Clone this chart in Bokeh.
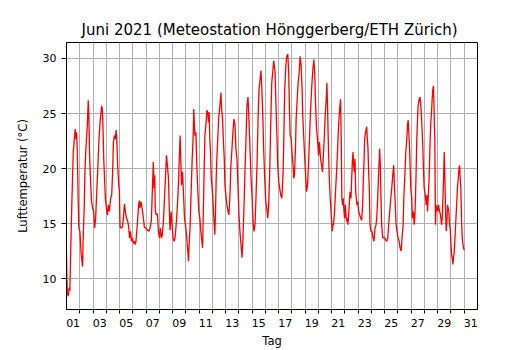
from bokeh.plotting import figure
from bokeh.models import FixedTicker, Range1d
from bokeh.embed import file_html
from bokeh.resources import INLINE

# time in fractional day of month (1.0 = 1 June 00:00), air temperature in °C
day = [
    1.00, 1.03, 1.06, 1.13, 1.20, 1.25, 1.33, 1.40, 1.51, 1.61, 1.66, 1.71, 1.76, 1.81, 1.88, 1.93,
    2.01, 2.09, 2.16, 2.21, 2.26, 2.34, 2.39, 2.46, 2.57, 2.64, 2.69, 2.74, 2.82, 2.89, 2.97,
    3.05, 3.12, 3.20, 3.27, 3.35, 3.45, 3.53, 3.65, 3.70, 3.75, 3.80, 3.85, 3.93,
    4.01, 4.08, 4.16, 4.23, 4.33, 4.41, 4.48, 4.54, 4.61, 4.69, 4.74, 4.79, 4.86, 4.94, 4.99,
    5.04, 5.12, 5.22, 5.29, 5.37, 5.44, 5.52, 5.62, 5.70, 5.75, 5.82, 5.90, 5.97,
    6.05, 6.13, 6.17, 6.24, 6.34, 6.44, 6.49, 6.54, 6.62, 6.70, 6.80, 6.87, 6.97,
    7.10, 7.22, 7.30, 7.40, 7.48, 7.55, 7.60, 7.65, 7.70, 7.78, 7.86, 7.93,
    8.01, 8.08, 8.16, 8.23, 8.31, 8.39, 8.46, 8.54, 8.61, 8.69, 8.76, 8.81, 8.89, 8.96,
    9.04, 9.12, 9.19, 9.27, 9.34, 9.42, 9.49, 9.57, 9.62, 9.67, 9.75, 9.82, 9.90,
    10.00, 10.07, 10.15, 10.20, 10.25, 10.33, 10.40, 10.48, 10.55, 10.60, 10.68, 10.76, 10.83, 10.91, 10.98,
    11.06, 11.13, 11.21, 11.26, 11.28, 11.34, 11.39, 11.44, 11.51, 11.59, 11.66, 11.71, 11.76, 11.81, 11.86, 11.92, 11.97,
    12.02, 12.09, 12.14, 12.19, 12.24, 12.29, 12.34, 12.42, 12.49, 12.57, 12.65, 12.70, 12.77, 12.85, 12.90, 12.95,
    13.02, 13.10, 13.18, 13.25, 13.33, 13.40, 13.48, 13.55, 13.63, 13.71, 13.78, 13.86, 13.93,
    14.01, 14.08, 14.16, 14.24, 14.31, 14.39, 14.46, 14.54, 14.61, 14.69, 14.76, 14.84, 14.92, 14.99,
    15.07, 15.14, 15.22, 15.29, 15.37, 15.45, 15.52, 15.60, 15.67, 15.72, 15.80, 15.87, 15.95,
    16.03, 16.10, 16.18, 16.25, 16.33, 16.40, 16.48, 16.55, 16.63, 16.73, 16.78, 16.83, 16.88, 16.93,
    17.01, 17.08, 17.16, 17.24, 17.34, 17.39, 17.46, 17.54, 17.61, 17.69, 17.76, 17.81, 17.87, 17.94,
    18.02, 18.09, 18.14, 18.19, 18.27, 18.32, 18.40, 18.47, 18.55, 18.62, 18.70, 18.77, 18.82, 18.90, 18.97,
    19.05, 19.10, 19.18, 19.25, 19.33, 19.40, 19.50, 19.58, 19.66, 19.73, 19.78, 19.86, 19.93,
    20.01, 20.08, 20.16, 20.24, 20.31, 20.36, 20.44, 20.51, 20.59, 20.64, 20.69, 20.74, 20.82, 20.89, 20.97,
    21.04, 21.09, 21.14, 21.22, 21.29, 21.37, 21.45, 21.52, 21.60, 21.67, 21.72, 21.77, 21.82, 21.87, 21.93, 21.98,
    22.03, 22.08, 22.13, 22.18, 22.23, 22.30, 22.38, 22.46, 22.51, 22.56, 22.61, 22.66, 22.71, 22.76, 22.81, 22.86, 22.91, 22.96,
    23.04, 23.11, 23.19, 23.26, 23.34, 23.39, 23.44, 23.49, 23.56, 23.64, 23.69, 23.74, 23.79, 23.84, 23.89, 23.97,
    24.04, 24.12, 24.19, 24.27, 24.35, 24.40, 24.47, 24.55, 24.62, 24.67, 24.72, 24.77, 24.85, 24.93,
    25.00, 25.08, 25.15, 25.23, 25.30, 25.38, 25.46, 25.53, 25.61, 25.68, 25.73, 25.78, 25.86, 25.93,
    26.01, 26.09, 26.16, 26.24, 26.31, 26.39, 26.44, 26.51, 26.59, 26.67, 26.72, 26.77, 26.82, 26.87, 26.92, 26.97,
    27.04, 27.09, 27.17, 27.22, 27.27, 27.32, 27.37, 27.42, 27.47, 27.52, 27.60, 27.67, 27.72, 27.77, 27.83, 27.88, 27.93, 27.98,
    28.03, 28.08, 28.13, 28.18, 28.23, 28.28, 28.33, 28.38, 28.43, 28.48, 28.53, 28.58, 28.63, 28.68, 28.73, 28.78, 28.83, 28.88, 28.93, 28.99,
    29.06, 29.14, 29.21, 29.29, 29.34, 29.39, 29.44, 29.49, 29.54, 29.59, 29.64, 29.69, 29.74, 29.79, 29.84, 29.89, 29.94, 29.99,
    30.04, 30.09, 30.14, 30.19, 30.25, 30.30, 30.35, 30.40, 30.45, 30.50, 30.55, 30.60, 30.65, 30.70, 30.75, 30.80, 30.85, 30.90, 30.95, 31.00,
]
temp = [
    12.5, 10.0, 8.8, 8.4, 9.2, 8.9, 13.1, 16.7, 21.5, 23.0, 23.6, 22.7, 23.3, 21.8, 17.3, 14.6,
    14.3, 12.5, 11.6, 11.1, 13.7, 16.7, 19.7, 21.8, 23.9, 26.2, 24.5, 21.2, 18.8, 17.0, 16.4,
    16.1, 14.6, 15.5, 17.6, 19.7, 22.7, 24.2, 25.7, 25.4, 23.9, 21.2, 19.7, 17.3,
    16.4, 15.8, 16.7, 16.1, 17.3, 17.6, 19.7, 22.4, 23.0, 22.7, 23.5, 22.7, 20.3, 18.5, 17.9,
    14.7, 14.6, 14.7, 15.5, 16.8, 16.1, 15.5, 15.2, 14.6, 13.7, 14.3, 13.4, 13.7,
    13.2, 13.4, 13.1, 13.4, 14.9, 16.7, 17.1, 16.4, 17.0, 16.4, 15.5, 14.7, 14.6,
    14.4, 14.3, 14.6, 15.3, 18.2, 20.6, 18.2, 19.4, 16.1, 15.8, 15.9, 14.3,
    13.7, 14.6, 13.7, 14.0, 15.2, 17.3, 19.1, 21.2, 20.3, 19.1, 16.1, 14.4, 16.1, 14.9,
    13.7, 13.4, 13.7, 14.9, 16.1, 17.9, 20.3, 23.0, 20.9, 18.5, 19.7, 17.9, 15.5,
    14.6, 13.7, 12.5, 11.6, 13.1, 14.9, 17.9, 20.9, 22.7, 25.4, 23.0, 23.3, 20.3, 17.9, 16.1,
    15.5, 14.3, 13.4, 12.8, 13.7, 17.3, 20.3, 23.0, 23.9, 25.3, 25.1, 24.2, 25.1, 22.7, 21.5, 19.1, 18.5,
    17.6, 16.1, 14.9, 14.0, 16.1, 19.1, 20.9, 23.0, 24.8, 25.7, 26.9, 25.4, 24.5, 22.1, 20.9, 18.5,
    17.6, 16.7, 16.1, 15.8, 17.6, 20.3, 21.8, 23.3, 24.5, 23.9, 21.8, 20.9, 18.5,
    15.8, 14.3, 13.1, 11.9, 13.7, 16.7, 19.7, 22.7, 25.7, 26.5, 24.5, 21.8, 19.1, 17.6,
    15.2, 14.3, 14.9, 17.3, 20.3, 24.5, 27.2, 28.1, 28.9, 27.5, 25.1, 21.8, 19.1,
    17.0, 16.4, 15.5, 16.7, 19.7, 23.9, 27.8, 28.7, 29.8, 28.7, 26.6, 24.5, 22.7, 20.3,
    18.8, 18.2, 17.6, 17.3, 19.7, 22.7, 27.2, 29.3, 30.2, 30.4, 28.7, 25.7, 23.0, 22.7,
    21.2, 20.3, 19.1, 19.4, 21.8, 24.5, 26.3, 27.8, 28.7, 30.2, 29.3, 27.2, 24.8, 22.7, 20.9,
    19.1, 17.9, 18.5, 20.3, 22.7, 25.1, 27.5, 29.0, 29.9, 28.4, 26.0, 23.6, 22.7,
    21.2, 22.4, 20.9, 20.3, 19.7, 20.9, 22.7, 24.8, 26.3, 27.8, 25.7, 22.7, 19.1, 17.3, 15.8,
    14.3, 14.9, 14.9, 16.1, 17.9, 19.7, 21.8, 23.9, 25.4, 26.3, 22.7, 17.3, 16.7, 17.3, 16.1, 15.5,
    16.7, 15.8, 15.2, 15.5, 14.9, 16.1, 17.9, 17.3, 19.1, 20.6, 21.5, 20.3, 19.7, 20.9, 17.9, 17.3, 16.7, 17.0,
    16.1, 15.8, 15.5, 15.3, 16.7, 19.1, 20.6, 22.7, 23.3, 23.8, 22.7, 21.8, 19.7, 18.2, 14.9, 14.3,
    14.3, 13.7, 13.4, 14.6, 14.9, 15.5, 17.3, 19.7, 21.8, 20.3, 17.3, 14.9, 13.7, 13.7,
    13.7, 13.5, 13.4, 13.7, 14.9, 16.1, 17.3, 18.2, 19.4, 20.3, 18.5, 17.3, 14.9, 14.3,
    13.7, 13.4, 12.8, 12.5, 13.7, 14.9, 17.3, 19.1, 21.5, 22.7, 23.9, 24.4, 23.3, 22.1, 20.0, 18.2,
    17.3, 15.5, 16.1, 14.9, 15.5, 17.3, 19.7, 22.7, 24.2, 25.7, 26.3, 26.5, 25.7, 24.8, 23.3, 21.8, 19.7, 18.2,
    17.9, 17.3, 16.7, 17.6, 16.1, 17.3, 18.5, 20.3, 22.7, 24.2, 25.1, 26.3, 27.2, 27.5, 25.1, 22.7, 14.9, 16.7, 16.4, 16.1,
    16.7, 16.1, 15.8, 14.9, 15.5, 17.3, 19.1, 21.5, 19.1, 16.1, 14.3, 15.2, 16.7, 16.4, 16.1, 14.9, 14.6, 13.4,
    12.2, 11.9, 11.3, 11.9, 12.5, 13.7, 14.9, 16.1, 17.3, 18.5, 19.1, 20.0, 20.3, 19.1, 17.9, 15.2, 13.7, 13.1, 12.8, 12.6,
]

label_days = list(range(1, 32, 2))
tick_labels = ["%02d" % d for d in label_days]
day_bounds = list(range(2, 32))
y_ticks = [10, 15, 20, 25, 30]

FONT = "DejaVu Sans"

p = figure(
    width=530, height=350,
    output_backend="svg", toolbar_location=None,
    x_range=Range1d(1, 32), y_range=Range1d(7.2, 31.45),
    min_border_left=66, min_border_right=53, min_border_top=42, min_border_bottom=38,
    title="Juni 2021  (Meteostation Hönggerberg/ETH Zürich)",
)

p.line(day, temp, line_color="#ff0000", line_width=1.3)

# title
p.title.align = "center"
p.title.text_font = FONT
p.title.text_font_size = "15px"
p.title.text_font_style = "normal"
p.title.text_color = "black"
p.title.standoff = 7

# frame
p.outline_line_color = "black"
p.outline_line_width = 1
p.outline_line_alpha = 1
p.background_fill_color = "white"
p.border_fill_color = "white"

# x axis: labels at mid-day, ticks and grid at midnight
xt = FixedTicker(ticks=[d + 0.5 for d in label_days], minor_ticks=day_bounds)
p.xaxis.ticker = xt
p.xaxis.major_label_overrides = {d + 0.5: lab for d, lab in zip(label_days, tick_labels)}
p.xaxis.major_tick_out = 0
p.xaxis.major_tick_in = 0
p.xaxis.minor_tick_out = 4
p.xaxis.minor_tick_in = 0
p.xaxis.major_label_standoff = 5
p.xaxis.axis_label = "Tag"
p.xaxis.axis_label_standoff = 4
p.xgrid.ticker = FixedTicker(ticks=day_bounds)

# y axis
p.yaxis.ticker = FixedTicker(ticks=y_ticks)
p.yaxis.major_tick_out = 5
p.yaxis.major_tick_in = 0
p.yaxis.minor_tick_out = 0
p.yaxis.minor_tick_in = 0
p.yaxis.major_label_standoff = 5
p.yaxis.axis_label = "Lufttemperatur (°C)"
p.yaxis.axis_label_standoff = 10

for ax in (p.xaxis, p.yaxis):
    ax.axis_line_color = "black"
    ax.major_tick_line_color = "black"
    ax.minor_tick_line_color = "black"
    ax.major_label_text_font = FONT
    ax.major_label_text_font_size = "11px"
    ax.major_label_text_color = "black"
    ax.axis_label_text_font = FONT
    ax.axis_label_text_font_size = "11.5px"
    ax.axis_label_text_font_style = "normal"
    ax.axis_label_text_color = "black"

for g in (p.xgrid, p.ygrid):
    g.grid_line_color = "#b0b0b0"
    g.grid_line_width = 1
    g.grid_line_alpha = 1

open("out.html", "w").write(file_html(p, INLINE))
